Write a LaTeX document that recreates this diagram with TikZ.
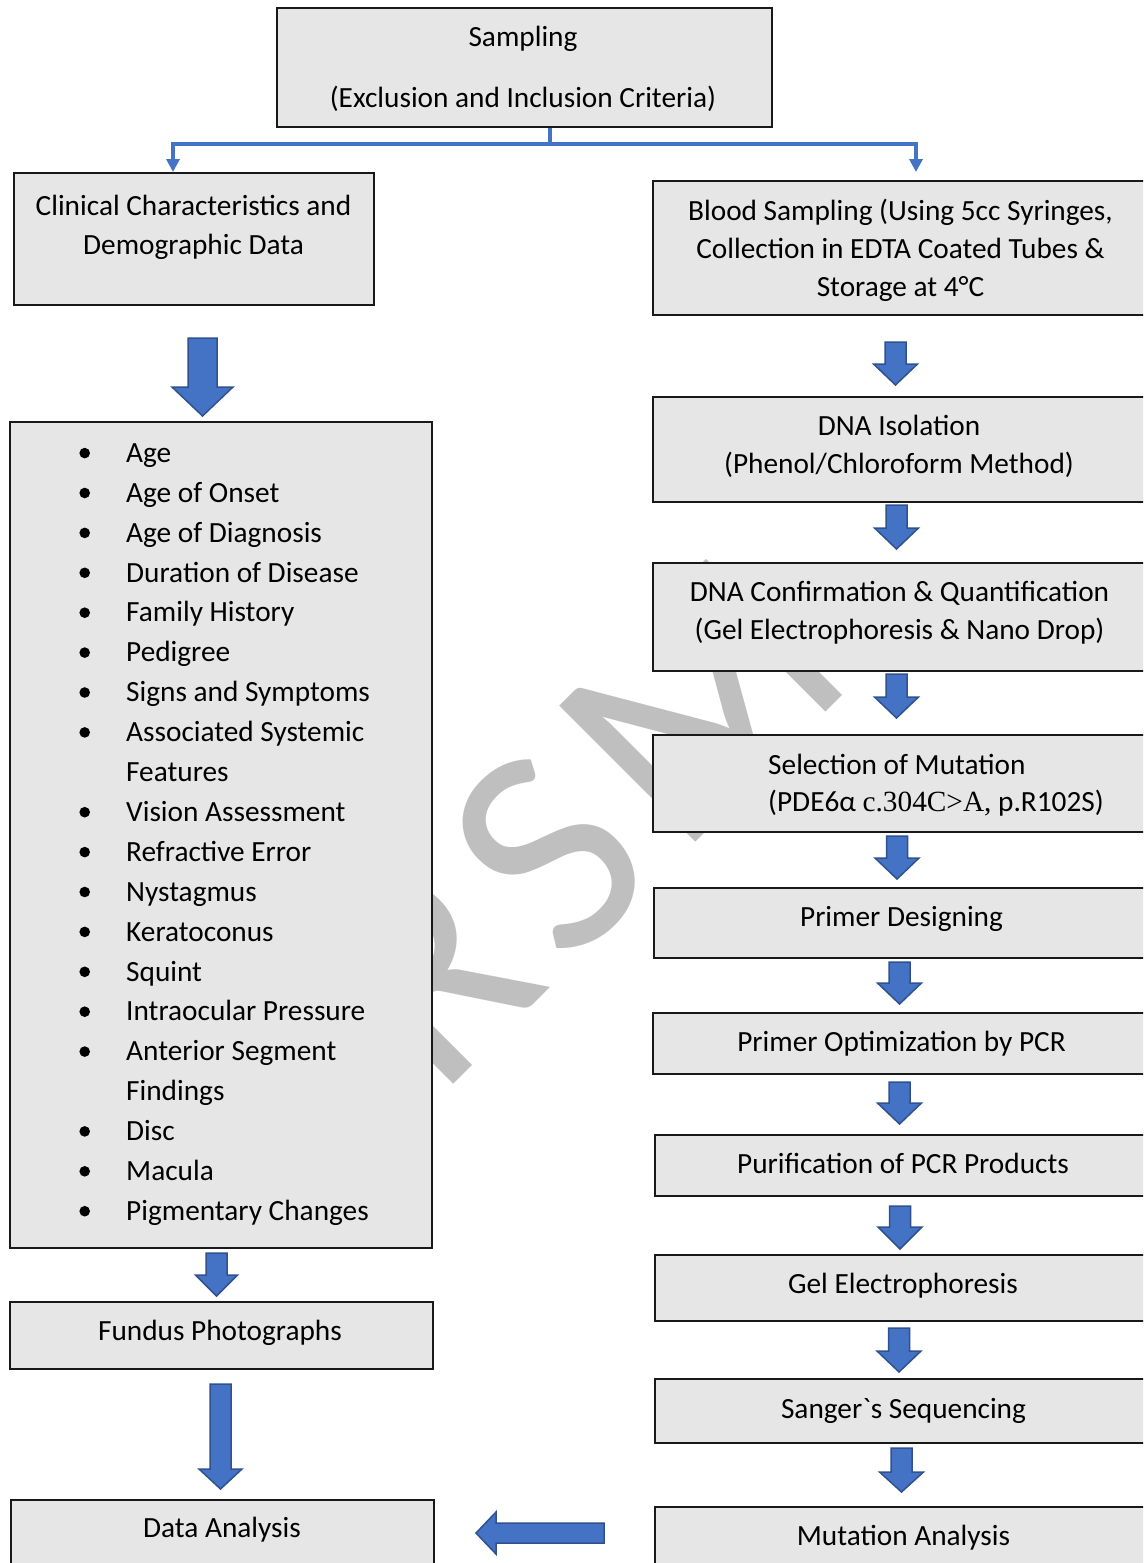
\documentclass[tikz,border=0pt]{standalone}
\usepackage{fontspec}
\newfontfamily\calfont{Carlito}
\newfontfamily\tnrfont{Liberation Serif}
\usetikzlibrary{arrows.meta}
\definecolor{boxfill}{HTML}{E6E6E6}
\definecolor{flow}{HTML}{4472C4}
\definecolor{flowedge}{HTML}{2F528F}
\definecolor{markgrey}{HTML}{BFBFBF}

\tikzset{
  box/.style={draw=black!90, line width=2pt, fill=boxfill, inner sep=0pt},
  txt/.style={inner sep=0pt, anchor=base, font=\calfont\fontsize{29.3}{38}\selectfont},
  ltxt/.style={txt, anchor=base west},
  blockarrow/.style={fill=flow, draw=flowedge, line width=1.5pt, line join=miter},
  link/.style={draw=flow, line width=4pt},
  linktip/.style={-{Triangle[width=13pt,length=13pt]}},
}

% box by its corners: name, x1, y1, x2, y2
\newcommand\boxat[5]{%
  \node[box, anchor=north west, minimum width={(#4)-(#2)}, minimum height={(#5)-(#3)}] (#1) at (#2,#3) {};}
% downward block arrow: centre x, shaft top, head start, tip, shaft half width, head half width
\newcommand\flowdown[6]{%
  \draw[blockarrow] ({#1-#5},#2) -- ({#1+#5},#2) -- ({#1+#5},#3) -- ({#1+#6},#3) -- (#1,#4)
     -- ({#1-#6},#3) -- ({#1-#5},#3) -- cycle;}

\begin{document}
\begin{tikzpicture}[x=1pt, y=-1pt]
\useasboundingbox (0,0) rectangle (1143,1563);
\clip (0,0) rectangle (1143,1563);
\fill[white] (0,0) rectangle (1143,1563);

% watermark behind everything
\node[inner sep=0pt, anchor=base west, rotate=45, text=markgrey,
      font=\calfont\fontsize{300}{300}\selectfont] (wm) at (438,1100) {R\kern20pt S\kern20pt M};

% ---- boxes ----
\boxat{samp}{276}{7}{771}{126}
\boxat{clin}{13}{172}{373}{304}
\boxat{list}{9}{421}{431}{1247}
\boxat{fund}{9}{1301}{432}{1368}
\boxat{data}{10}{1499}{433}{1580}

\boxat{blood}{652}{180}{1160}{314}
\boxat{iso}{652}{396}{1160}{501}
\boxat{conf}{652}{562}{1160}{670}
\boxat{sel}{652}{734}{1160}{831}
\boxat{pdes}{653}{887}{1160}{957}
\boxat{popt}{652}{1012}{1160}{1073}
\boxat{puri}{654}{1134}{1160}{1195}
\boxat{gel}{654}{1254}{1160}{1320}
\boxat{sang}{654}{1378}{1160}{1442}
\boxat{mut}{654}{1506}{1160}{1580}

% ---- texts ----
\node[txt] (sampA) at (523,47) {Sampling};
\node[txt] (sampB) at (523,107) {(Exclusion and Inclusion Criteria)};
\node[txt] (clinA) at (193.5,215) {Clinical Characteristics and};
\node[txt] (clinB) at (193.5,254.5) {Demographic Data};

\foreach \t/\b [count=\k from 0] in {Age/1, Age of Onset/1, Age of Diagnosis/1,
    Duration of Disease/1, Family History/1, Pedigree/1, Signs and Symptoms/1,
    Associated Systemic/1, Features/0, Vision Assessment/1, Refractive Error/1,
    Nystagmus/1, Keratoconus/1, Squint/1, Intraocular Pressure/1,
    Anterior Segment/1, Findings/0, Disc/1, Macula/1, Pigmentary Changes/1} {
  \pgfmathsetmacro\yb{462.3+39.9*\k}
  \node[ltxt] (li\k) at (126,\yb) {\t};
  \ifnum\b=1 \fill (84.7,\yb-9.2) circle (5.3pt); \fi
}

\node[txt] (fundA) at (220,1340) {Fundus Photographs};
\node[txt] (dataA) at (222,1537.5) {Data Analysis};

\node[txt] (bloodA) at (900.5,220) {Blood Sampling (Using 5cc Syringes,};
\node[txt] (bloodB) at (900.5,258) {Collection in EDTA Coated Tubes \&};
\node[txt] (bloodC) at (900.5,296.5) {Storage at 4°C};
\node[txt] (isoA) at (899,435) {DNA Isolation};
\node[txt] (isoB) at (899,473) {(Phenol/Chloroform Method)};
\node[txt] (confA) at (899.5,601) {DNA Confirmation \& Quantification};
\node[txt] (confB) at (899.5,639.5) {(Gel Electrophoresis \& Nano Drop)};
\node[ltxt] (selA) at (768,774) {Selection of Mutation};
\node[ltxt] (selB) at (768,811.5) {(PDE6α {\tnrfont c.304C>A,} p.R102S)};
\node[txt] (pdesA) at (901.5,926.5) {Primer Designing};
\node[txt] (poptA) at (901.5,1051) {Primer Optimization by PCR};
\node[txt] (puriA) at (903,1173) {Purification of PCR Products};
\node[txt] (gelA) at (903,1293.5) {Gel Electrophoresis};
\node[txt] (sangA) at (903.5,1418) {Sanger`s Sequencing};
\node[txt] (mutA) at (903.5,1545) {Mutation Analysis};

% ---- split connector from sampling ----
\coordinate (split) at (550,144);
\coordinate (lt) at (173,172);
\coordinate (rt) at (916,172);
\draw[link] (samp.south -| split) -- (split);
\draw[link, linktip] (split) -| (lt);
\draw[link, linktip] (split) -| (rt);

% ---- block arrows, left column ----
\flowdown{202.5}{338}{387}{416}{14.5}{30.5}
\flowdown{216.5}{1253}{1275}{1296}{10.5}{21}
\flowdown{220.5}{1384}{1469}{1489}{10.5}{21.5}
% from mutation analysis back to data analysis
\draw[blockarrow] (604,1523) -- (604,1543) -- (496,1543) -- (496,1554) -- (476,1533)
   -- (496,1512) -- (496,1523) -- cycle;

% ---- block arrows, right column ----
\flowdown{895.5}{342}{364}{385}{10.5}{22}
\flowdown{896.5}{505}{528}{549}{10.5}{22}
\flowdown{896.5}{674}{697}{718}{10.5}{22}
\flowdown{897}{836}{858}{879}{10.5}{22}
\flowdown{899.5}{962}{983}{1004}{10.5}{22}
\flowdown{899.5}{1082}{1103}{1124}{10.5}{22}
\flowdown{900}{1206}{1227}{1249}{10.5}{22}
\flowdown{899}{1328}{1351}{1372}{10.5}{22}
\flowdown{901.5}{1448}{1472}{1492}{10.5}{22}
\end{tikzpicture}
\end{document}
